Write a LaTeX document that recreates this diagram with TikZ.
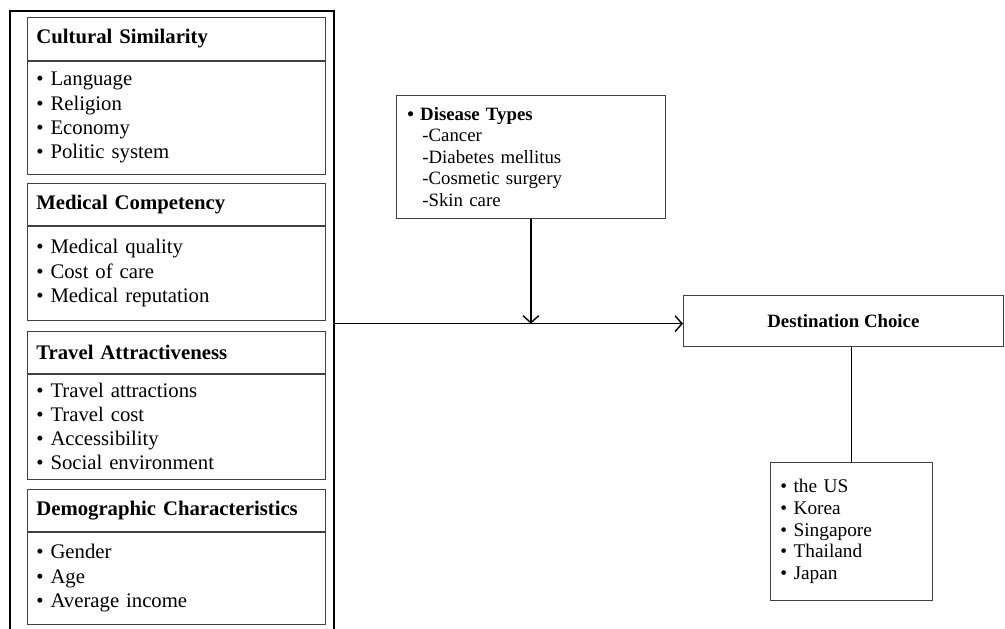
\documentclass[tikz,border=0pt]{standalone}
\usepackage{fontspec}
\setmainfont{Liberation Serif}
\usepackage{tikz}
\usetikzlibrary{calc,arrows,arrows.meta,positioning}

\begin{document}
\begin{tikzpicture}[
    frame/.style={draw, line width=1.3pt, anchor=north west, minimum width=6.48cm, minimum height=12.5cm, inner sep=0pt},
    hdr/.style={draw=black!75, anchor=north west, minimum width=5.96cm, text width=5.6cm, inner xsep=0.18cm, inner ysep=1pt, align=left, font=\fontsize{11.8}{13.7}\selectfont\bfseries},
    lst/.style={draw=black!75, minimum width=5.96cm, text width=5.6cm, inner xsep=0.18cm, inner ysep=1pt, align=left, font=\fontsize{11.8}{13.7}\selectfont},
    box/.style={draw=black!75, anchor=north west, inner ysep=1pt, align=left},
    conn/.style={line width=0.8pt},
    barb/.style={-{Straight Barb[length=4pt,width=9pt]}}]
                      \useasboundingbox (0,0) rectangle (20.1,-12.56);
                      \node[frame] (frame) at (0.18,-0.2) {};
                      \node[hdr, minimum height=0.86cm] (cs) at (0.54,-0.34) {Cultural Similarity};
                      \node[lst, minimum height=2.26cm, below=0pt of cs] (csl) {• Language\\• Religion\\• Economy\\• Politic system};
                      \node[hdr, minimum height=0.84cm] (mc) at (0.54,-3.66) {Medical Competency};
                      \node[lst, minimum height=1.88cm, below=0pt of mc] (mcl) {• Medical quality\\• Cost of care\\• Medical reputation};
                      \node[hdr, minimum height=0.84cm] (ta) at (0.54,-6.62) {Travel Attractiveness};
                      \node[lst, minimum height=2.10cm, below=0pt of ta] (tal) {• Travel attractions\\• Travel cost\\• Accessibility\\• Social environment};
                      \node[hdr, minimum height=0.84cm] (dc) at (0.54,-9.78) {Demographic Characteristics};
                      \node[lst, minimum height=1.84cm, below=0pt of dc] (dcl) {• Gender\\• Age\\• Average income};
                      \node[box, minimum width=5.38cm, minimum height=2.46cm, text width=4.94cm, inner xsep=0.22cm, font=\fontsize{10.7}{12.3}\selectfont] (dis) at (7.92,-1.9) {\textbf{• Disease Types}\\\hspace*{0.3cm}-Cancer\\\hspace*{0.3cm}-Diabetes mellitus\\\hspace*{0.3cm}-Cosmetic surgery\\\hspace*{0.3cm}-Skin care};
                      \node[box, minimum width=6.4cm, minimum height=1.02cm, align=center, font=\fontsize{10.7}{12.5}\selectfont\bfseries] (dest) at (13.66,-5.9) {Destination Choice};
                      \node[box, minimum width=3.24cm, minimum height=2.76cm, text width=2.84cm, inner xsep=0.2cm, font=\fontsize{11}{12.5}\selectfont] (ctry) at (15.4,-9.24) {• the US\\• Korea\\• Singapore\\• Thailand\\• Japan};
                      \draw[conn, barb] (frame.east) -- (frame.east -| dest.west);
                      \draw[conn, barb] (dis.south) -- (dis.south |- frame.east);
                      \draw[conn] (ctry.north) -- (ctry.north |- dest.south);
                  \end{tikzpicture}
\end{document}
